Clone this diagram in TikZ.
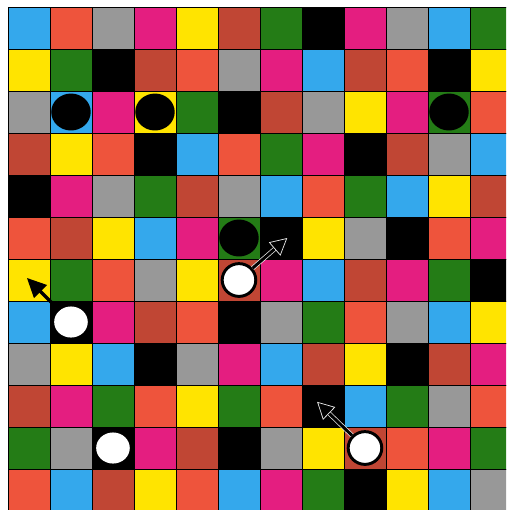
\documentclass[tikz,border=0pt]{standalone}
\usetikzlibrary{shapes.geometric,arrows.meta}
\definecolor{sky}{RGB}{52,168,236}
\definecolor{tomato}{RGB}{238,84,60}
\definecolor{ash}{RGB}{152,152,152}
\definecolor{rose}{RGB}{228,30,128}
\definecolor{lemon}{RGB}{255,228,0}
\definecolor{brick}{RGB}{192,70,52}
\definecolor{leaf}{RGB}{36,124,22}
\tikzset{
    tile/.style={draw=black, line width=0.6pt, minimum size=1cm, inner sep=0pt, outer sep=0pt},
    blackdisk/.style={ellipse, fill=black, minimum width=0.94cm, minimum height=0.88cm, inner sep=0pt},
    whitedisk/.style={ellipse, fill=white, minimum width=0.8cm, minimum height=0.74cm, inner sep=0pt},
    ringdisk/.style={whitedisk, draw=black, line width=2pt, minimum width=0.8cm, minimum height=0.78cm},
    solidarrow/.style={line width=2.2pt, -{Triangle[length=0.46cm,width=0.42cm]}},
    hollowarrow/.style={draw=white!80!gray, line width=0.5pt, double=black, double distance=2pt,
        -{Triangle[open,length=0.4cm,width=0.42cm,fill=black]}}
}
\begin{document}
\begin{tikzpicture}
    % Define the frame of the board
    \fill[white] (0,0) rectangle (12.048,-12.143);
    \useasboundingbox (0,0) rectangle (12.048,-12.143);
    \clip (0,0) rectangle (12.048,-12.143);

    % Draw the tiles, row by row
    \foreach \row [count=\j] in {
        {sky,tomato,ash,rose,lemon,brick,leaf,black,rose,ash,sky,leaf},
        {lemon,leaf,black,brick,tomato,ash,rose,sky,brick,tomato,black,lemon},
        {ash,sky,rose,lemon,leaf,black,brick,ash,lemon,rose,leaf,tomato},
        {brick,lemon,tomato,black,sky,tomato,leaf,rose,black,brick,ash,sky},
        {black,rose,ash,leaf,brick,ash,sky,tomato,leaf,sky,lemon,brick},
        {tomato,brick,lemon,sky,rose,leaf,black,lemon,ash,black,tomato,rose},
        {lemon,leaf,tomato,ash,lemon,brick,rose,sky,brick,rose,leaf,black},
        {sky,black,rose,brick,tomato,black,ash,leaf,tomato,ash,sky,lemon},
        {ash,lemon,sky,black,ash,rose,sky,brick,lemon,black,brick,rose},
        {brick,rose,leaf,tomato,lemon,leaf,tomato,black,sky,leaf,ash,tomato},
        {leaf,ash,black,rose,brick,black,ash,lemon,brick,tomato,rose,leaf},
        {tomato,sky,brick,lemon,tomato,sky,rose,leaf,black,lemon,sky,ash}}
        \foreach \c [count=\i] in \row
            \node[tile, fill=\c] (t-\i-\j) at ({\i-0.31},{0.333-\j}) {};

    % Place the counters
    \node[blackdisk] (b1) at (t-2-3) {};
    \node[blackdisk] (b2) at (t-4-3) {};
    \node[blackdisk] (b3) at (t-11-3) {};
    \node[blackdisk] (b4) at (t-6-6) {};
    \node[ringdisk] (w1) at (t-6-7) {};
    \node[whitedisk] (w2) at (t-2-8) {};
    \node[whitedisk] (w3) at (t-3-11) {};
    \node[ringdisk] (w4) at (t-9-11) {};

    % Moves
    \draw[solidarrow] (w2) -- ([shift={(-0.05,0.05)}]t-1-7.center);
    \draw[hollowarrow] (w1) -- ([xshift=0.15cm]t-7-6.center);
    \draw[hollowarrow] (w4) -- ([shift={(-0.14,0.1)}]t-8-10.center);
\end{tikzpicture}
\end{document}
